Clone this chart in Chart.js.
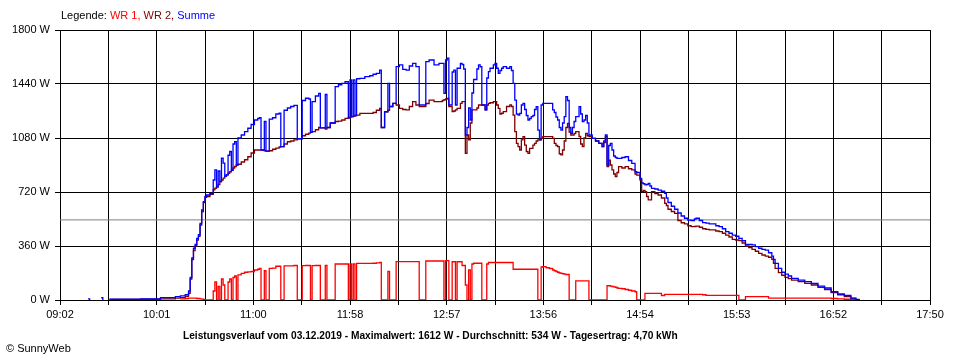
<!DOCTYPE html>
<html>
<head>
<meta charset="utf-8">
<script src="https://cdn.jsdelivr.net/npm/chart.js@4.4.1/dist/chart.umd.min.js"></script>
<style>
  body { margin: 0; background: #fff; }
  #wrap { position: relative; width: 960px; height: 360px; font-family: "Liberation Sans", Arial, sans-serif; }
  .txt { position: absolute; white-space: nowrap; font-size: 11px; color: #000; }
</style>
</head>
<body>
<div id="wrap">
  <canvas id="myChart" width="960" height="360"></canvas>
  <div class="txt" style="left:61px;top:9px;">Legende: <span style="color:#ff0000">WR 1,</span> <span style="color:#800000">WR 2,</span> <span style="color:#0000ff">Summe</span></div>
  <div class="txt" id="title" style="left:183px;top:329px;font-weight:bold;transform:scaleX(0.925);transform-origin:0 0;">Leistungsverlauf vom 03.12.2019 - Maximalwert: 1612 W - Durchschnitt: 534 W - Tagesertrag: 4,70 kWh</div>
  <div class="txt" style="left:6px;top:342px;">© SunnyWeb</div>
</div>
<script>
// x axis labels (every second grid line carries a label)
var xTickLabels = ['09:02','10:01','11:00','11:58','12:57','13:56','14:54','15:53','16:52','17:50'];
var yMax = 1800, yStep = 360;
var avgW = 534; // Durchschnitt

var times = ['09:19','09:20','09:21','09:27','09:28','09:29',
 '09:32','09:51','10:03','10:12','10:15','10:18','10:20','10:21','10:22','10:23','10:24','10:25','10:26','10:27','10:28','10:29',
 '10:30','10:31','10:33','10:35','10:36','10:37','10:38','10:39','10:40','10:41','10:42','10:43','10:44','10:45','10:46','10:47','10:48','10:49',
 '10:50','10:52','10:54','10:56','10:58','11:00','11:02','11:03','11:04','11:06','11:07','11:09','11:11','11:13','11:15','11:16','11:18',
 '11:20','11:22','11:24','11:26','11:29','11:31','11:33','11:34','11:35','11:37','11:39','11:40','11:43','11:44','11:46','11:49',
 '11:51','11:53','11:55','11:57','11:58','11:59','12:00','12:01','12:02','12:04','12:07','12:10','12:12','12:14','12:16','12:17','12:19',
 '12:21','12:22','12:24','12:26','12:28','12:30','12:32','12:34','12:36','12:38','12:40','12:44','12:46','12:49','12:52','12:54','12:55',
 '12:56','12:57','12:58','13:00','13:01','13:02','13:03','13:05','13:06','13:07','13:08','13:09','13:10','13:11','13:12','13:13','13:15',
 '13:16','13:17','13:18','13:20','13:21','13:22','13:23','13:25','13:26','13:27','13:28','13:29','13:30','13:31','13:33','13:35','13:36',
 '13:37','13:38','13:39','13:40','13:41','13:42','13:43','13:44','13:45','13:46','13:47','13:48','13:49','13:50','13:51','13:52','13:53',
 '13:54','13:55','13:57','13:59','14:01','14:02','14:03','14:04','14:05','14:06','14:07','14:08','14:09','14:10','14:11','14:12','14:13',
 '14:14','14:15','14:17','14:18','14:19','14:20','14:21','14:22','14:23','14:25','14:27','14:29','14:31','14:32','14:33','14:34','14:35',
 '14:36','14:37','14:38','14:39','14:40','14:41','14:43','14:45','14:47','14:49','14:51','14:52','14:54','14:55','14:56','14:57','14:58',
 '14:59','15:00','15:01','15:03','15:05','15:07','15:09','15:10','15:11','15:13','15:15','15:17','15:19','15:21','15:23','15:25','15:27',
 '15:28','15:30','15:32','15:34','15:36','15:38','15:40','15:42','15:44','15:46','15:48','15:50','15:52','15:54','15:56','15:58','16:00',
 '16:02','16:04','16:06','16:08','16:10','16:12','16:14','16:15','16:16','16:18','16:20','16:22','16:24','16:26','16:30','16:34','16:38',
 '16:42','16:46','16:50','16:54','16:58','17:02','17:05','17:07'];

var wr1 = [null,null,null,null,null,null,
 null,null,null,null,8,10,12,12,12,12,12,10,10,8,6,4,
 0,0,0,60,120,0,90,0,140,100,0,0,120,140,0,150,160,0,
 167,178,185,188,190,200,205,210,0,195,0,211,212,225,225,0,227,
 227,228,230,0,229,230,230,0,229,230,230,0,230,0,0,240,
 240,240,240,0,240,0,240,0,244,244,244,244,245,248,250,0,0,
 190,0,0,256,256,256,256,256,256,256,0,260,260,260,260,260,0,
 262,262,0,255,255,0,255,255,230,230,100,0,200,0,240,245,245,
 245,245,0,0,240,250,250,250,250,250,250,250,250,250,250,250,250,
 205,205,205,205,205,205,205,205,205,205,205,205,205,205,205,0,0,
 220,222,215,210,200,195,190,185,180,178,175,172,170,170,0,0,0,
 0,127,127,127,127,127,127,127,0,0,0,0,0,0,0,95,95,
 93,90,88,85,80,78,75,70,65,60,55,0,0,0,0,44,44,
 44,44,44,44,44,30,38,38,38,38,38,38,38,38,38,38,38,
 38,38,35,31,31,31,31,31,31,31,31,31,31,0,0,22,22,
 22,22,22,22,22,13,13,13,13,13,13,13,13,13,13,13,13,
 13,13,10,8,5,3,0,0];

var wr2 = [null,null,null,null,null,null,
 4,5,8,12,16,24,45,140,270,330,360,400,425,500,590,650,
 685,690,705,735,745,755,770,790,800,812,825,835,845,855,865,880,890,900,
 905,920,935,955,980,1000,1000,1000,1000,995,993,995,1005,1012,1020,1022,1040,
 1055,1060,1067,1075,1095,1105,1112,1118,1122,1135,1150,1148,1140,1150,1180,1190,
 1192,1200,1211,1215,1220,1222,1225,1230,1233,1244,1244,1244,1250,1265,1278,1150,1255,
 1265,1290,1311,1300,1278,1270,1267,1290,1322,1300,1289,1310,1333,1322,1322,1330,1335,
 1340,1344,1289,1256,1260,1267,1278,1311,1322,1322,978,1100,1067,1180,1267,1267,1280,
 1300,1300,1300,1267,1300,1311,1315,1322,1322,1300,1278,1240,1245,1256,1290,1300,1290,
 1233,1122,1044,1022,1000,1067,1089,1033,990,978,1011,1011,1033,1044,1060,1067,1067,
 1078,1089,1089,1089,1078,1044,1030,1022,975,967,1000,1060,1150,1178,1120,1100,1100,
 1110,1122,1090,1040,1022,1080,1111,1095,1089,1078,1060,1044,1022,1050,1090,890,933,
 900,867,840,822,850,889,880,889,875,867,840,833,800,722,730,722,690,
 667,667,722,710,700,680,644,630,605,590,578,530,515,507,495,489,490,
 493,485,475,471,467,467,460,456,445,433,420,404,400,396,380,360,350,
 338,325,311,300,293,285,271,245,211,182,165,151,142,133,122,111,100,
 84,70,50,35,22,10,3,0];

var summe = [8,0,null,15,0,null,
 6,8,16,22,28,35,60,150,280,345,370,410,435,510,600,655,
 690,700,710,800,867,755,860,790,945,912,825,835,965,990,865,1040,1055,900,
 1080,1100,1122,1145,1170,1200,1210,1215,1000,1190,993,1206,1215,1240,1245,1022,1265,
 1280,1290,1298,1075,1330,1345,1340,1118,1322,1360,1378,1148,1370,1150,1180,1422,
 1435,1444,1455,1215,1467,1222,1467,1230,1475,1478,1489,1495,1505,1511,1533,1150,1255,
 1444,1290,1311,1556,1567,1538,1533,1560,1578,1556,1300,1589,1600,1567,1578,1578,1378,
 1600,1612,1300,1520,1533,1300,1545,1578,1570,1540,1100,1150,1280,1200,1380,1470,1540,
 1567,1555,1300,1267,1480,1522,1545,1567,1578,1545,1511,1530,1545,1556,1545,1556,1530,
 1444,1333,1240,1233,1244,1300,1311,1270,1230,1200,1210,1222,1230,1270,1289,1133,1067,
 1300,1311,1311,1311,1267,1250,1220,1200,1150,1133,1180,1222,1355,1330,1150,1111,1150,
 1190,1222,1289,1240,1189,1200,1230,1180,1100,1078,1060,1044,1022,1060,1100,900,1030,
 1044,1000,960,950,944,944,950,955,930,911,855,850,810,780,775,767,770,
 778,760,744,740,733,725,711,680,650,625,605,580,560,545,533,530,540,
 545,530,516,512,508,507,495,489,475,456,445,433,425,411,395,371,370,
 367,356,345,338,333,315,293,270,244,211,185,173,160,144,133,122,110,
 93,80,55,40,30,12,4,0];

function toMin(t) {
    var p = t.split(':');
    return parseInt(p[0], 10) * 60 + parseInt(p[1], 10);
}
var xMin = toMin(xTickLabels[0]), xMax = toMin(xTickLabels[xTickLabels.length - 1]);
var gridStep = (xMax - xMin) / ((xTickLabels.length - 1) * 2);

function series(values) {
    return times.map(function(t, i) { return {x: toMin(t), y: values[i]}; });
}
var lineStyle = {pointRadius: 0, borderWidth: 1.3, stepped: true, fill: false, spanGaps: false};

var ctx = document.getElementById('myChart').getContext('2d');
window.myLine = new Chart(ctx, {
    type: 'line',
    data: {
        datasets: [
            Object.assign({label: 'Summe', data: series(summe), borderColor: '#0000ff', order: 1}, lineStyle),
            Object.assign({label: 'WR 1', data: series(wr1), borderColor: '#ff0000', order: 2}, lineStyle),
            Object.assign({label: 'WR 2', data: series(wr2), borderColor: '#800000', order: 3}, lineStyle),
            {label: 'Durchschnitt', data: [{x: xMin, y: avgW}, {x: xMax, y: avgW}],
             borderColor: '#808080', borderWidth: 1, pointRadius: 0, order: 10}
        ]
    },
    options: {
        responsive: false,
        animation: false,
        events: [],
        layout: {padding: {left: 0, right: 30, top: 30, bottom: 0}},
        plugins: {legend: {display: false}, tooltip: {enabled: false}, title: {display: false}},
        scales: {
            x: {
                type: 'linear',
                min: xMin,
                max: xMax,
                afterBuildTicks: function(scale) {
                    var ticks = [];
                    for (var i = 0; i <= (xTickLabels.length - 1) * 2; i++) {
                        ticks.push({value: xMin + i * gridStep});
                    }
                    scale.ticks = ticks;
                },
                afterFit: function(scale) { scale.height = 60; },
                grid: {color: '#000', lineWidth: 1, drawTicks: true, tickLength: 5, tickColor: '#000'},
                border: {display: true, color: '#000', width: 1},
                ticks: {
                    autoSkip: false,
                    maxRotation: 0,
                    padding: 3,
                    color: '#000',
                    font: {family: '"Liberation Sans", Arial, sans-serif', size: 11},
                    callback: function(value, index) {
                        return index % 2 === 0 ? xTickLabels[index / 2] : '';
                    }
                }
            },
            y: {
                min: 0,
                max: yMax,
                afterFit: function(scale) { scale.width = 60; },
                grid: {color: '#000', lineWidth: 1, drawTicks: true, tickLength: 5, tickColor: '#000'},
                border: {display: true, color: '#000', width: 1},
                ticks: {
                    stepSize: yStep,
                    padding: 5,
                    color: '#000',
                    font: {family: '"Liberation Sans", Arial, sans-serif', size: 11},
                    callback: function(v) { return v + ' W'; }
                }
            }
        }
    }
});
</script>
</body>
</html>
